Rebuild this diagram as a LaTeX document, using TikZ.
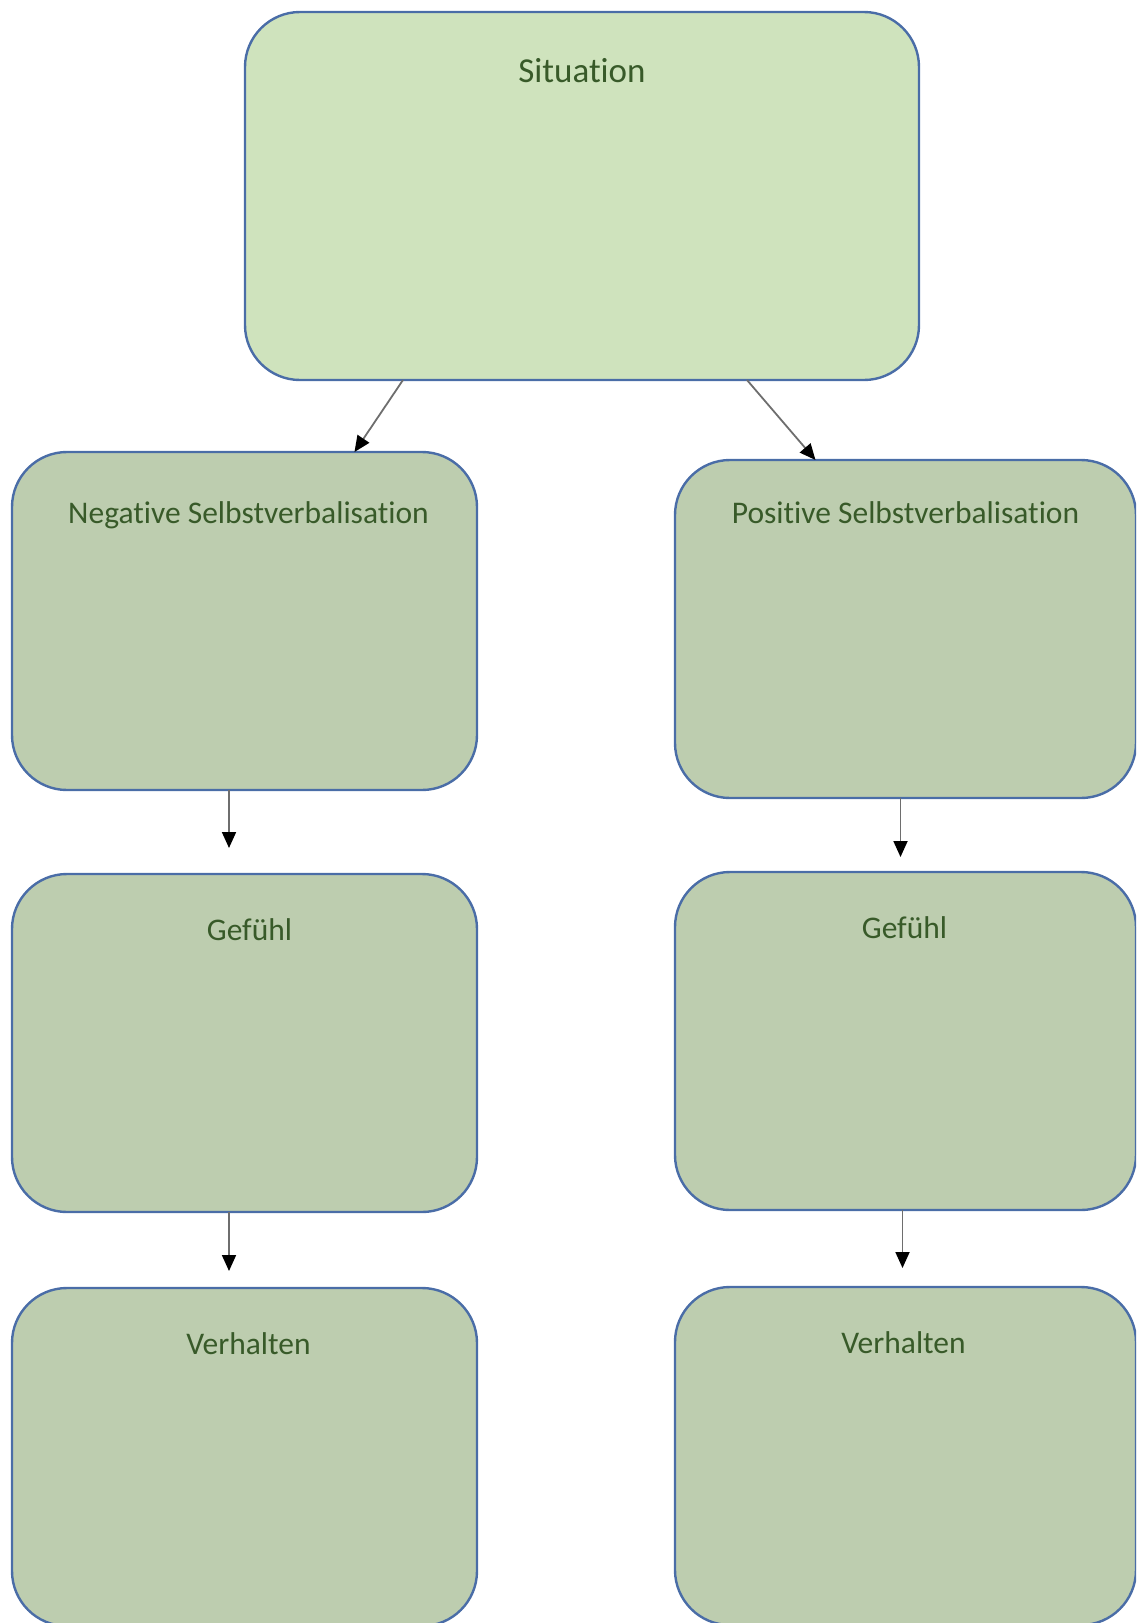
\documentclass[tikz,border=0pt]{standalone}
\usepackage{fontspec}
\setmainfont{Carlito}[Ligatures=NoCommon]
\usetikzlibrary{arrows.meta, positioning}

\definecolor{sitgreen}{HTML}{CFE3BD}
\definecolor{boxgreen}{HTML}{BDCDAF}
\definecolor{boxblue}{HTML}{4A6DA7}
\definecolor{textgreen}{HTML}{385A29}
\definecolor{arrowgray}{HTML}{6E6E6E}

\begin{document}
\begin{tikzpicture}[
    x=1pt, y=-1pt,
    box/.style={rectangle, draw=boxblue, line width=2.4pt, fill=boxgreen, rounded corners=55pt, outer sep=0pt, minimum width=465pt, minimum height=338pt},
    topbox/.style={box, fill=sitgreen, minimum width=674pt, minimum height=368pt},
    title/.style={anchor=base, text=textgreen, font=\fontsize{31.5}{37}\selectfont, inner sep=0pt},
    bigtitle/.style={title, font=\fontsize{35}{42}\selectfont},
    arrow/.style={-{Triangle[length=16pt, width=14pt, black]}, draw=arrowgray, line width=1.8pt}
]
\useasboundingbox (0,0) rectangle (1136,1623);
\clip (0,0) rectangle (1136,1623);

% Situation
\node[topbox] (sit) at (582,196) {};
\node[bigtitle] at ([yshift=-70pt]sit.north) {Situation};

% Left column
\node[box] (neg) at (244.5,621) {};
\node[box, below=84pt of neg] (gefL) {};
\node[box, below=76pt of gefL] (verL) {};

% Right column
\node[box, minimum width=461pt] (pos) at (905.5,629) {};
\node[box, minimum width=461pt, below=74pt of pos] (gefR) {};
\node[box, minimum width=461pt, below=77pt of gefR] (verR) {};

% Titles
\node[title] at ([xshift=4pt, yshift=-71pt]neg.north) {Negative Selbstverbalisation};
\node[title] at ([yshift=-63pt]pos.north) {Positive Selbstverbalisation};
\node[title] at ([xshift=5pt, yshift=-66pt]gefL.north) {Gefühl};
\node[title] at ([xshift=-1pt, yshift=-66pt]gefR.north) {Gefühl};
\node[title] at ([xshift=4pt, yshift=-66pt]verL.north) {Verhalten};
\node[title] at ([xshift=-2pt, yshift=-66pt]verR.north) {Verhalten};

% Arrows
\draw[arrow] ([xshift=-179pt]sit.south) -- ([xshift=110pt]neg.north);
\draw[arrow] ([xshift=165pt]sit.south) -- ([xshift=-90pt]pos.north);
\draw[arrow, shorten >=26pt] ([xshift=-15.5pt]neg.south) -- ([xshift=-15.5pt]gefL.north);
\draw[arrow, shorten >=15pt] ([xshift=-5pt]pos.south) -- ([xshift=-5pt]gefR.north);
\draw[arrow, shorten >=17pt] ([xshift=-15.5pt]gefL.south) -- ([xshift=-15.5pt]verL.north);
\draw[arrow, shorten >=19pt] ([xshift=-3pt]gefR.south) -- ([xshift=-3pt]verR.north);

\end{tikzpicture}
\end{document}
